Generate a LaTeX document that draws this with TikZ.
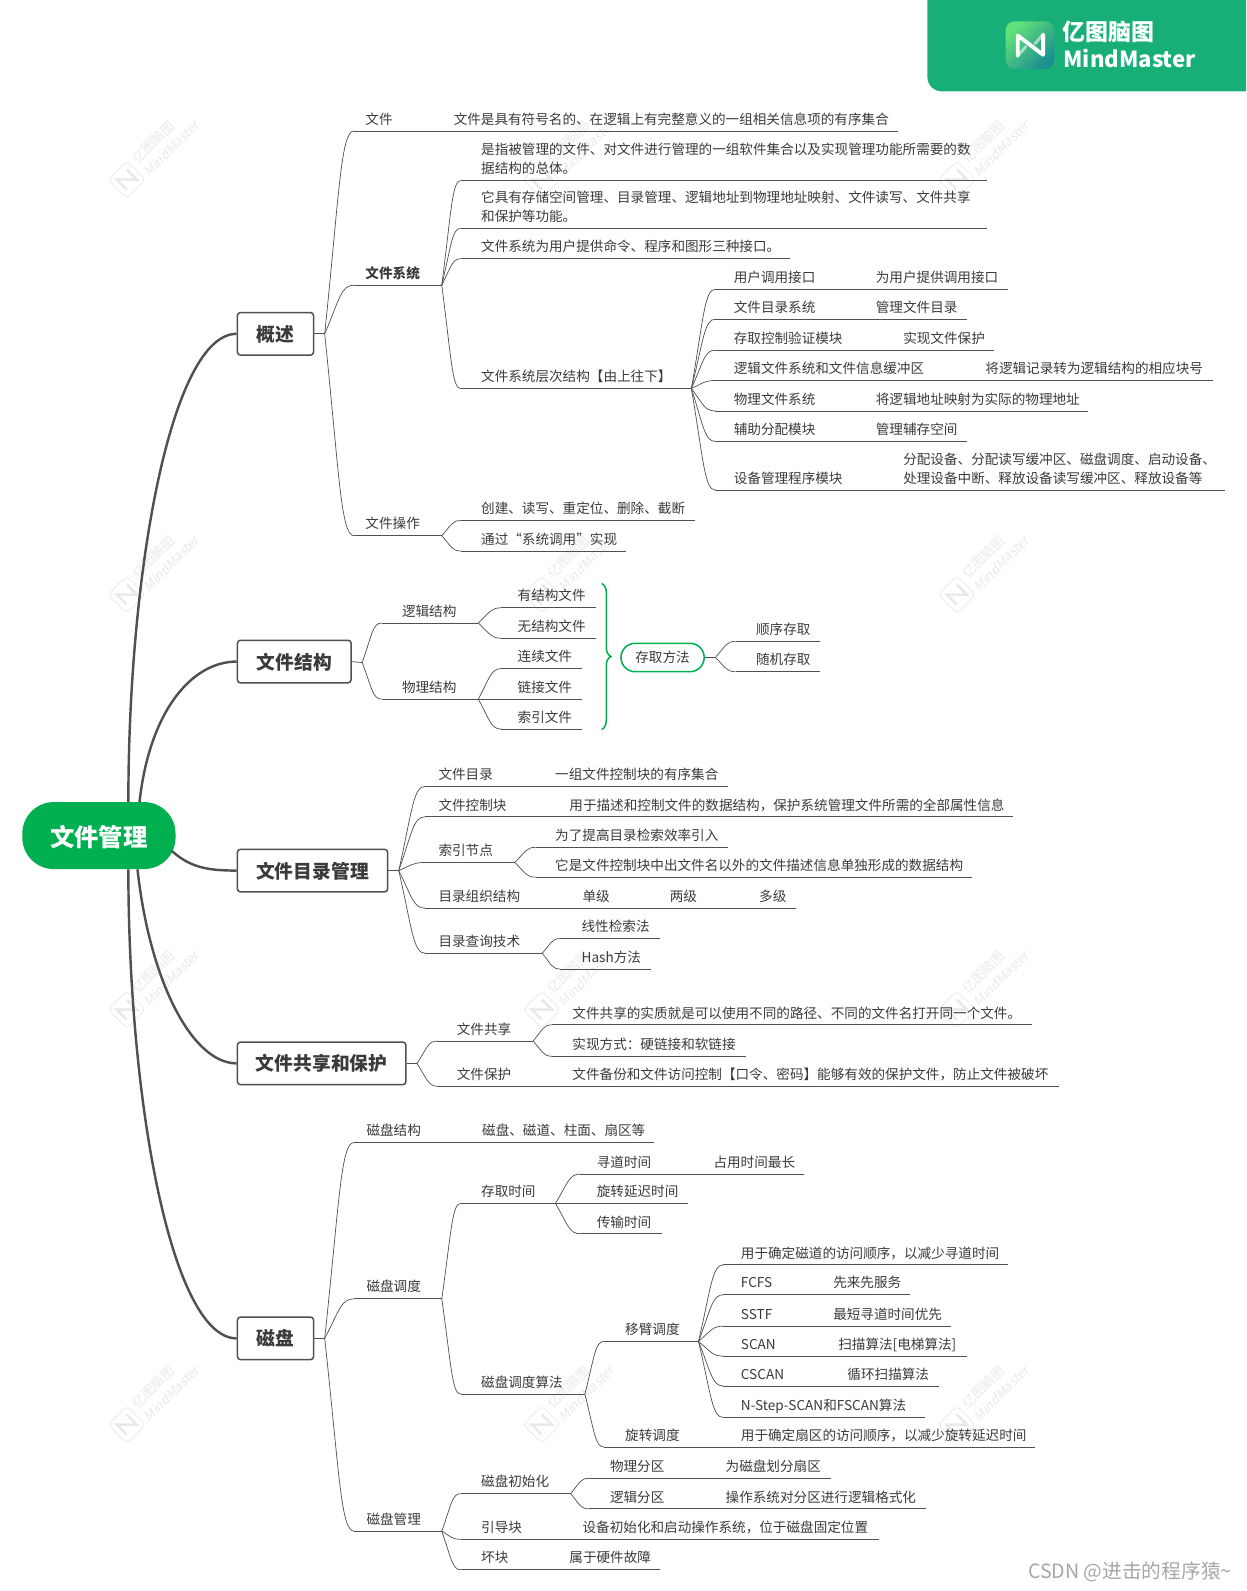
\documentclass[tikz,border=0pt]{standalone}
\usepackage{fontspec}
\setmainfont{Noto Sans CJK SC}
\newfontfamily\markfont[FakeSlant=0.2]{Noto Sans CJK SC}
\usetikzlibrary{calc,decorations.pathreplacing}
\definecolor{inkgray}{HTML}{3A3A3A}
\definecolor{linegray}{HTML}{505050}
\definecolor{rootgreen}{HTML}{00B050}
\definecolor{logogreen}{HTML}{17AE78}
\definecolor{logolight}{HTML}{62E27A}
\definecolor{logoteal}{HTML}{1B8F8F}
\definecolor{markgray}{HTML}{E9E9E9}
\tikzset{
	base/.style={font=\fontsize{13.4}{18.8}\selectfont,text=inkgray},
	root/.style={fill=rootgreen,rounded corners=31pt,minimum width=151pt,minimum height=66pt,text=white,text height=24pt,text depth=3pt,font=\fontsize{24}{28}\selectfont\bfseries},
	main/.style={draw=linegray,fill=white,line width=1.5pt,rounded corners=3pt,minimum height=42pt,text=inkgray,text height=18pt,text depth=3pt,font=\fontsize{18.5}{22}\selectfont\bfseries},
	branch/.style={draw=linegray,line width=0.7pt},
	trunk/.style={draw=linegray,line width=2.4pt},
	topic/.style 2 args={base,anchor=south west,inner xsep=0pt,inner ysep=2pt,text depth=4.5pt,text width=#1pt,align=left,
		execute at begin node={\leftskip=#2pt},
		append after command={(\tikzlastnode.south west) edge[branch] (\tikzlastnode.south east)}},
	note/.style={base,anchor=south west,inner xsep=0pt,inner ysep=2pt,text depth=4.5pt,align=left},
	method/.style={base,draw=rootgreen,fill=white,line width=1.5pt,rounded corners=14pt,minimum width=82pt,minimum height=28pt}
}
\begin{document}
\begin{tikzpicture}[x=1pt,y=-1pt]
	\useasboundingbox (0,0) rectangle (1228,1568);
	\foreach \wx in {0,409,818}
		\foreach \wy in {0,409,818,1227} {
			\begin{scope}[shift={(\wx,\wy)}]
				\draw[markgray,line width=0.8pt,rounded corners=4pt,rotate around={45:(125,177)}] (112,164) rectangle (138,190);
				\draw[markgray,line width=2.5pt,rotate around={45:(125,177)}] (118,184) -- (118,170) -- (132,184) -- (132,170);
				\node[rotate=45,text=markgray,font=\fontsize{13}{15}\selectfont] (wm-a-\wx-\wy) at (151,140) {亿图脑图};
				\node[rotate=45,text=markgray,font=\fontsize{13}{15}\selectfont\markfont] (wm-b-\wx-\wy) at (169,146) {MindMaster};
			\end{scope}
		}
	\fill[logogreen] (1228,0) -- (914,0) [rounded corners=14pt] -- (914,90) [sharp corners] -- (1228,90) -- cycle;
	\shade[top color=logolight,bottom color=logoteal,shading angle=45,rounded corners=9pt] (991,21) rectangle (1039,68);
	\draw[white,line width=3.8pt,line join=round,line cap=round] (1003,55) -- (1003,35) -- (1028,54) -- (1028,34);
	\draw[white,opacity=0.55,line width=3pt,line cap=round] (1003,55) -- (1011,46) (1028,34) -- (1020,43);
	\node[anchor=west,inner xsep=0pt,text=white,font=\fontsize{22.6}{26}\selectfont\bfseries] (logocn) at (1047,31) {亿图脑图};
	\node[anchor=west,inner xsep=0pt,text=white,font=\fontsize{21.8}{26}\selectfont\bfseries] (logoen) at (1048,58) {MindMaster};

	\node[root] (file) at (97.5,823.5) {文件管理};
	\node[main,minimum width=75pt] (gs) at (271.5,329) {概述};
	\node[main,minimum width=112pt] (jg) at (290,652) {文件结构};
	\node[main,minimum width=148pt] (ml) at (308,858) {文件目录管理};
	\node[main,minimum width=166pt] (gx) at (317,1048) {文件共享和保护};
	\node[main,minimum width=75pt] (cp) at (271.5,1319) {磁盘};

	\draw[trunk] ([xshift=29pt]file.north) .. controls +(0,-230) and +(-64,0) .. (gs.west);
	\draw[trunk] ([xshift=40pt]file.north) .. controls +(10,-90) and +(-44,0) .. (jg.west);
	\draw[trunk] ([xshift=-4pt,yshift=-15pt]file.east) .. controls +(18,16) and +(-30,0) .. (ml.west);
	\draw[trunk] ([xshift=38pt]file.south) .. controls +(12,110) and +(-44,0) .. (gx.west);
	\draw[trunk] ([xshift=29pt]file.south) .. controls +(0,230) and +(-64,0) .. (cp.west);

	\coordinate (gs-j) at (320,329);
	\coordinate (jg-j) at (357,653);
	\coordinate (ml-j) at (393,858);
	\coordinate (gx-j) at (411,1048);
	\coordinate (cp-j) at (320,1319);
	\coordinate (cq-j) at (705,648);
	\foreach \a/\b in {gs/gs-j,ml/ml-j,gx/gx-j,cp/cp-j}
		\draw[branch] (\a.east) -- (\b);
	\draw[branch] (jg.east) -- (jg-j);

	\node[topic={536}{11}] (wj) at (349,129) {文件};
	\node[note] (wj-n) at (447,129) {文件是具有符号名的、在逻辑上有完整意义的一组相关信息项的有序集合};
	\node[topic={86}{11}] (xt) at (349,281) {\bfseries 文件系统};
	\node[topic={86}{11}] (cz) at (349,528) {文件操作};
	\node[topic={518}{20},text depth=23.3pt] (xt-a) at (454,178) {是指被管理的文件、对文件进行管理的一组软件集合以及实现管理功能所需要的数\\据结构的总体。};
	\node[topic={518}{20},text depth=23.3pt] (xt-b) at (454,225) {它具有存储空间管理、目录管理、逻辑地址到物理地址映射、文件读写、文件共享\\和保护等功能。};
	\node[topic={324}{20}] (xt-c) at (454,255) {文件系统为用户提供命令、程序和图形三种接口。};
	\node[topic={227}{20}] (xt-d) at (454,383) {文件系统层次结构【由上往下】};
	\node[topic={288}{18}] (cc-a) at (705,285) {用户调用接口};
	\node[note] (cc-a-n) at (863,285) {为用户提供调用接口};
	\node[topic={248}{18}] (cc-b) at (705,314.5) {文件目录系统};
	\node[note] (cc-b-n) at (863,314.5) {管理文件目录};
	\node[topic={274}{18}] (cc-c) at (705,345) {存取控制验证模块};
	\node[note] (cc-c-n) at (890,345) {实现文件保护};
	\node[topic={490}{18}] (cc-d) at (705,375) {逻辑文件系统和文件信息缓冲区};
	\node[note] (cc-d-n) at (971,375) {将逻辑记录转为逻辑结构的相应块号};
	\node[topic={367}{18}] (cc-e) at (705,405) {物理文件系统};
	\node[note] (cc-e-n) at (863,405) {将逻辑地址映射为实际的物理地址};
	\node[topic={248}{18}] (cc-f) at (705,435) {辅助分配模块};
	\node[note] (cc-f-n) at (863,435) {管理辅存空间};
	\node[topic={502}{18}] (cc-g) at (705,483) {设备管理程序模块};
	\node[note,text width=316pt,text depth=23.3pt] (cc-g-n) at (890,483) {分配设备、分配读写缓冲区、磁盘调度、启动设备、\\处理设备中断、释放设备读写缓冲区、释放设备等};
	\node[topic={231}{20}] (cz-a) at (454,513) {创建、读写、重定位、删除、截断};
	\node[topic={163}{20}] (cz-b) at (454,543) {通过“系统调用”实现};

	\node[topic={95}{20}] (lj) at (376,614) {逻辑结构};
	\node[topic={95}{20}] (wl) at (376,689) {物理结构};
	\node[topic={93}{16}] (lj-a) at (494,599) {有结构文件};
	\node[topic={93}{16}] (lj-b) at (494,629) {无结构文件};
	\node[topic={79}{16}] (wl-a) at (494,659) {连续文件};
	\node[topic={79}{16}] (wl-b) at (494,689) {链接文件};
	\node[topic={79}{16}] (wl-c) at (494,718.5) {索引文件};
	\coordinate (kh-a) at (593,575);
	\coordinate (kh-b) at (593,719);
	\draw[rootgreen,line width=1.5pt,decorate,decoration={brace,amplitude=9pt}] (kh-a) -- (kh-b);
	\node[method] (cq) at (653,648) {存取方法};
	\draw[branch] (cq.east) -- (cq-j);
	\node[topic={83}{20}] (cq-a) at (725,632) {顺序存取};
	\node[topic={83}{20}] (cq-b) at (725,662) {随机存取};

	\node[topic={298}{13}] (ml-a) at (419,775) {文件目录};
	\node[note] (ml-a-n) at (547,775) {一组文件控制块的有序集合};
	\node[topic={579}{13}] (ml-b) at (419,805) {文件控制块};
	\node[note] (ml-b-n) at (561,805) {用于描述和控制文件的数据结构，保护系统管理文件所需的全部属性信息};
	\node[topic={88}{13}] (ml-c) at (419,850) {索引节点};
	\node[topic={365}{13}] (ml-d) at (419,895) {目录组织结构};
	\node[note] (ml-d-a) at (574,895) {单级};
	\node[note] (ml-d-b) at (660,895) {两级};
	\node[note] (ml-d-c) at (748,895) {多级};
	\node[topic={115}{13}] (ml-e) at (419,939.5) {目录查询技术};
	\node[topic={189}{19}] (ml-c-a) at (528,835) {为了提高目录检索效率引入};
	\node[topic={430}{19}] (ml-c-b) at (528,864.5) {它是文件控制块中出文件名以外的文件描述信息单独形成的数据结构};
	\node[topic={98}{21}] (ml-e-a) at (552,925) {线性检索法};
	\node[topic={89}{21}] (ml-e-b) at (552,955) {Hash方法};

	\node[topic={94}{19}] (gx-a) at (431,1026) {文件共享};
	\node[topic={612}{19}] (gx-b) at (431,1070.5) {文件保护};
	\node[note] (gx-b-n) at (564,1070.5) {文件备份和文件访问控制【口令、密码】能够有效的保护文件，防止文件被破坏};
	\node[topic={473}{20}] (gx-a-a) at (544,1010) {文件共享的实质就是可以使用不同的路径、不同的文件名打开同一个文件。};
	\node[topic={191}{20}] (gx-a-b) at (544,1041) {实现方式：硬链接和软链接};

	\node[topic={295}{12}] (cp-a) at (349,1126) {磁盘结构};
	\node[note] (cp-a-n) at (475,1126) {磁盘、磁道、柱面、扇区等};
	\node[topic={86}{12}] (cp-b) at (349,1280) {磁盘调度};
	\node[topic={86}{12}] (cp-c) at (349,1509) {磁盘管理};
	\node[topic={93}{20}] (sj) at (454,1186) {存取时间};
	\node[topic={122}{20}] (sf) at (454,1374) {磁盘调度算法};
	\node[topic={220}{16}] (sj-a) at (572,1157) {寻道时间};
	\node[note] (sj-a-n) at (703,1157) {占用时间最长};
	\node[topic={106}{16}] (sj-b) at (572,1186) {旋转延迟时间};
	\node[topic={80}{16}] (sj-c) at (572,1216) {传输时间};
	\node[topic={93}{21}] (yb) at (595,1322) {移臂调度};
	\node[topic={425}{21}] (xz) at (595,1426) {旋转调度};
	\node[note] (xz-n) at (730,1426) {用于确定扇区的访问顺序，以减少旋转延迟时间};
	\node[topic={280}{17}] (yb-a) at (713,1246.5) {用于确定磁道的访问顺序，以减少寻道时间};
	\node[topic={183}{17}] (yb-b) at (713,1276) {FCFS};
	\node[note] (yb-b-n) at (821,1276) {先来先服务};
	\node[topic={224}{17}] (yb-c) at (713,1307) {SSTF};
	\node[note] (yb-c-n) at (821,1307) {最短寻道时间优先};
	\node[topic={240}{17}] (yb-d) at (713,1336.5) {SCAN};
	\node[note] (yb-d-n) at (826,1336.5) {扫描算法[电梯算法]};
	\node[topic={212}{17}] (yb-e) at (713,1366) {CSCAN};
	\node[note] (yb-e-n) at (835,1366) {循环扫描算法};
	\node[topic={198}{17}] (yb-f) at (713,1397) {N-Step-SCAN和FSCAN算法};
	\node[topic={108}{20}] (gl-a) at (454,1472) {磁盘初始化};
	\node[topic={412}{20}] (gl-b) at (454,1517) {引导块};
	\node[note] (gl-b-n) at (574,1517) {设备初始化和启动操作系统，位于磁盘固定位置};
	\node[topic={196}{20}] (gl-c) at (454,1547) {坏块};
	\node[note] (gl-c-n) at (561,1547) {属于硬件故障};
	\node[topic={239}{21}] (fq-a) at (580,1457) {物理分区};
	\node[note] (fq-a-n) at (715,1457) {为磁盘划分扇区};
	\node[topic={332}{21}] (fq-b) at (580,1487) {逻辑分区};
	\node[note] (fq-b-n) at (715,1487) {操作系统对分区进行逻辑格式化};

	\foreach \a/\b in {gs-j/wj,gs-j/xt,gs-j/cz,xt.south east/xt-a,xt.south east/xt-b,xt.south east/xt-c,xt.south east/xt-d,
		xt-d.south east/cc-a,xt-d.south east/cc-b,xt-d.south east/cc-c,xt-d.south east/cc-d,xt-d.south east/cc-e,xt-d.south east/cc-f,xt-d.south east/cc-g,
		cz.south east/cz-a,cz.south east/cz-b,jg-j/lj,jg-j/wl,lj.south east/lj-a,lj.south east/lj-b,wl.south east/wl-a,wl.south east/wl-b,wl.south east/wl-c,
		cq-j/cq-a,cq-j/cq-b,ml-j/ml-a,ml-j/ml-b,ml-j/ml-c,ml-j/ml-d,ml-j/ml-e,ml-c.south east/ml-c-a,ml-c.south east/ml-c-b,ml-e.south east/ml-e-a,ml-e.south east/ml-e-b,
		gx-j/gx-a,gx-j/gx-b,gx-a.south east/gx-a-a,gx-a.south east/gx-a-b,cp-j/cp-a,cp-j/cp-b,cp-j/cp-c,cp-b.south east/sj,cp-b.south east/sf,
		sj.south east/sj-a,sj.south east/sj-b,sj.south east/sj-c,sf.south east/yb,sf.south east/xz,
		yb.south east/yb-a,yb.south east/yb-b,yb.south east/yb-c,yb.south east/yb-d,yb.south east/yb-e,yb.south east/yb-f,
		cp-c.south east/gl-a,cp-c.south east/gl-b,cp-c.south east/gl-c,gl-a.south east/fq-a,gl-a.south east/fq-b}
		\draw[branch] let \p1=(\a),\p2=(\b.south west) in (\p1) .. controls (\x1+0.5*\x2-0.5*\x1,\y1+0.7*\y2-0.7*\y1) and (\x1+0.55*\x2-0.55*\x1,\y2) .. (\p2);

	\node[anchor=east,inner xsep=0pt,text=gray!70,font=\fontsize{19.4}{22}\selectfont] (csdn) at (1214,1549) {CSDN @进击的程序猿\char`\~};
\end{tikzpicture}
\end{document}
